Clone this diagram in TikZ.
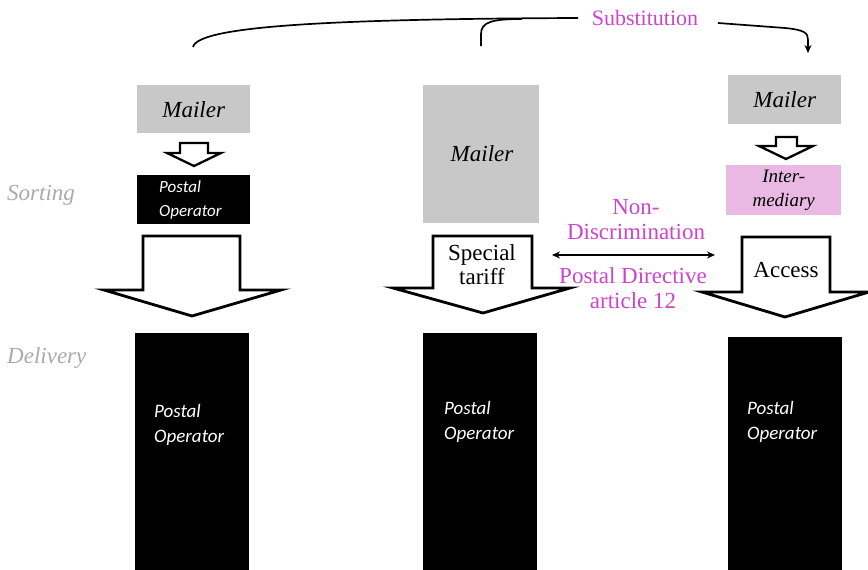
\documentclass[tikz,border=0pt]{standalone}
\usepackage{fontspec}
\setmainfont{Liberation Serif}
\newfontfamily\calfont{Carlito}
\usetikzlibrary{arrows.meta}
\definecolor{boxgray}{RGB}{200,200,200}
\definecolor{pinkbox}{RGB}{233,185,227}
\definecolor{magtext}{RGB}{204,68,204}
\definecolor{lblgray}{RGB}{170,170,170}
\tikzset{
  graybox/.style={fill=boxgray, draw=none, inner sep=0pt, anchor=north west},
  blackbox/.style={fill=black, draw=none, inner sep=0pt, anchor=north west},
  pbox/.style={fill=pinkbox, draw=none, inner sep=0pt, anchor=north west},
  hollow/.style={draw=black, fill=white, line width=2.8pt, line join=miter},
  hollowsmall/.style={draw=black, fill=white, line width=2.3pt, line join=miter},
  mailtext/.style={font=\fontsize{23}{25}\selectfont\itshape},
  potext/.style={font=\calfont\fontsize{19}{25}\selectfont\itshape, text=white, align=left, inner sep=0pt},
  mag/.style={font=\fontsize{23}{25}\selectfont, text=magtext, align=center, inner sep=0pt},
  stage/.style={font=\fontsize{23}{25}\selectfont\itshape, text=lblgray, inner sep=0pt, anchor=west},
  sub/.style={line width=1.7pt},
}
\begin{document}
\begin{tikzpicture}[x=1pt,y=-1pt]
\useasboundingbox (0,0) rectangle (868,570);

% stage labels
\node[stage] (sorting) at (7,195) {Sorting};
\node[stage] (delivery) at (7,358) {Delivery};

% ---------- left column ----------
\node[graybox, minimum width=113pt, minimum height=48pt] (mailL) at (137,85) {};
\node[mailtext] (mailLt) at (mailL.center) {Mailer};
\draw[hollowsmall] (180,143) -- (208,143) -- (208,153) -- (221,153) -- (194,166) -- (167,153) -- (180,153) -- cycle;
\node[blackbox, minimum width=113pt, minimum height=49pt] (poS) at (137,175) {};
\node[potext, font=\calfont\fontsize{17}{24}\selectfont\itshape, anchor=west] (poSt) at (159,199.5) {Postal\\Operator};
\draw[hollow] (143,236) -- (240,236) -- (240,290) -- (281,290) -- (192,316) -- (104,290) -- (143,290) -- cycle;
\node[blackbox, minimum width=114pt, minimum height=240pt] (poL) at (135,333) {};
\node[potext, anchor=west] (poLt) at (154,424.5) {Postal\\Operator};

% ---------- middle column ----------
\node[graybox, minimum width=116pt, minimum height=138pt] (mailM) at (423,85) {};
\node[mailtext] (mailMt) at (482,154) {Mailer};
\draw[hollow] (433,236) -- (532,236) -- (532,288) -- (570,288) -- (483,313) -- (393,288) -- (433,288) -- cycle;
\node[font=\fontsize{23}{24}\selectfont, align=center, inner sep=0pt] (spec) at (482,265) {Special\\tariff};
\node[blackbox, minimum width=114pt, minimum height=240pt] (poM) at (423,333) {};
\node[potext, anchor=west] (poMt) at (444,421.5) {Postal\\Operator};

% ---------- right column ----------
\node[graybox, minimum width=113pt, minimum height=49pt] (mailR) at (728,75) {};
\node[mailtext] (mailRt) at (mailR.center) {Mailer};
\draw[hollowsmall] (776,137) -- (797,137) -- (797,146) -- (813,146) -- (786,159) -- (759,146) -- (776,146) -- cycle;
\node[pbox, minimum width=115pt, minimum height=50pt] (inter) at (726,165) {};
\node[mailtext, font=\fontsize{19}{24}\selectfont\itshape, align=center, inner sep=0pt] (intert) at (inter.center) {Inter-\\mediary};
\draw[hollow] (742,237) -- (830,237) -- (830,292) -- (869,292) -- (785,317) -- (702,292) -- (742,292) -- cycle;
\node[font=\fontsize{23}{25}\selectfont, inner sep=0pt] (access) at (786,270) {Access};
\node[blackbox, minimum width=114pt, minimum height=240pt] (poR) at (728,337) {};
\node[potext, anchor=west] (poRt) at (747,421.5) {Postal\\Operator};

% ---------- non-discrimination ----------
\node[mag] (nondisc) at (636,219.5) {Non-\\Discrimination};
\node[mag] (pdir) at (633,288.5) {Postal Directive\\article 12};
\coordinate (ndL) at (552,255);
\coordinate (ndR) at (715,255);
\draw[line width=1.6pt, {Stealth[length=8pt,width=7pt]}-{Stealth[length=8pt,width=7pt]}] (ndL) -- (ndR);

% ---------- substitution ----------
\node[font=\fontsize{22}{24}\selectfont, text=magtext, inner sep=0pt] (subst) at (645,18) {Substitution};
\coordinate (sL) at (193,47);
\coordinate (sM) at (481,46);
\coordinate (sR) at (808,53);
\draw[sub] (sL) .. controls (198,26) and (330,19) .. (578,18);
\draw[sub] (sM) -- (481,34) .. controls (481,22) and (492,19) .. (522,19);
\draw[sub, -{Stealth[length=8pt,width=7pt]}] (718,23) -- (785,28) .. controls (805,30) and (808,33) .. (808,40) -- (sR);
\end{tikzpicture}
\end{document}
